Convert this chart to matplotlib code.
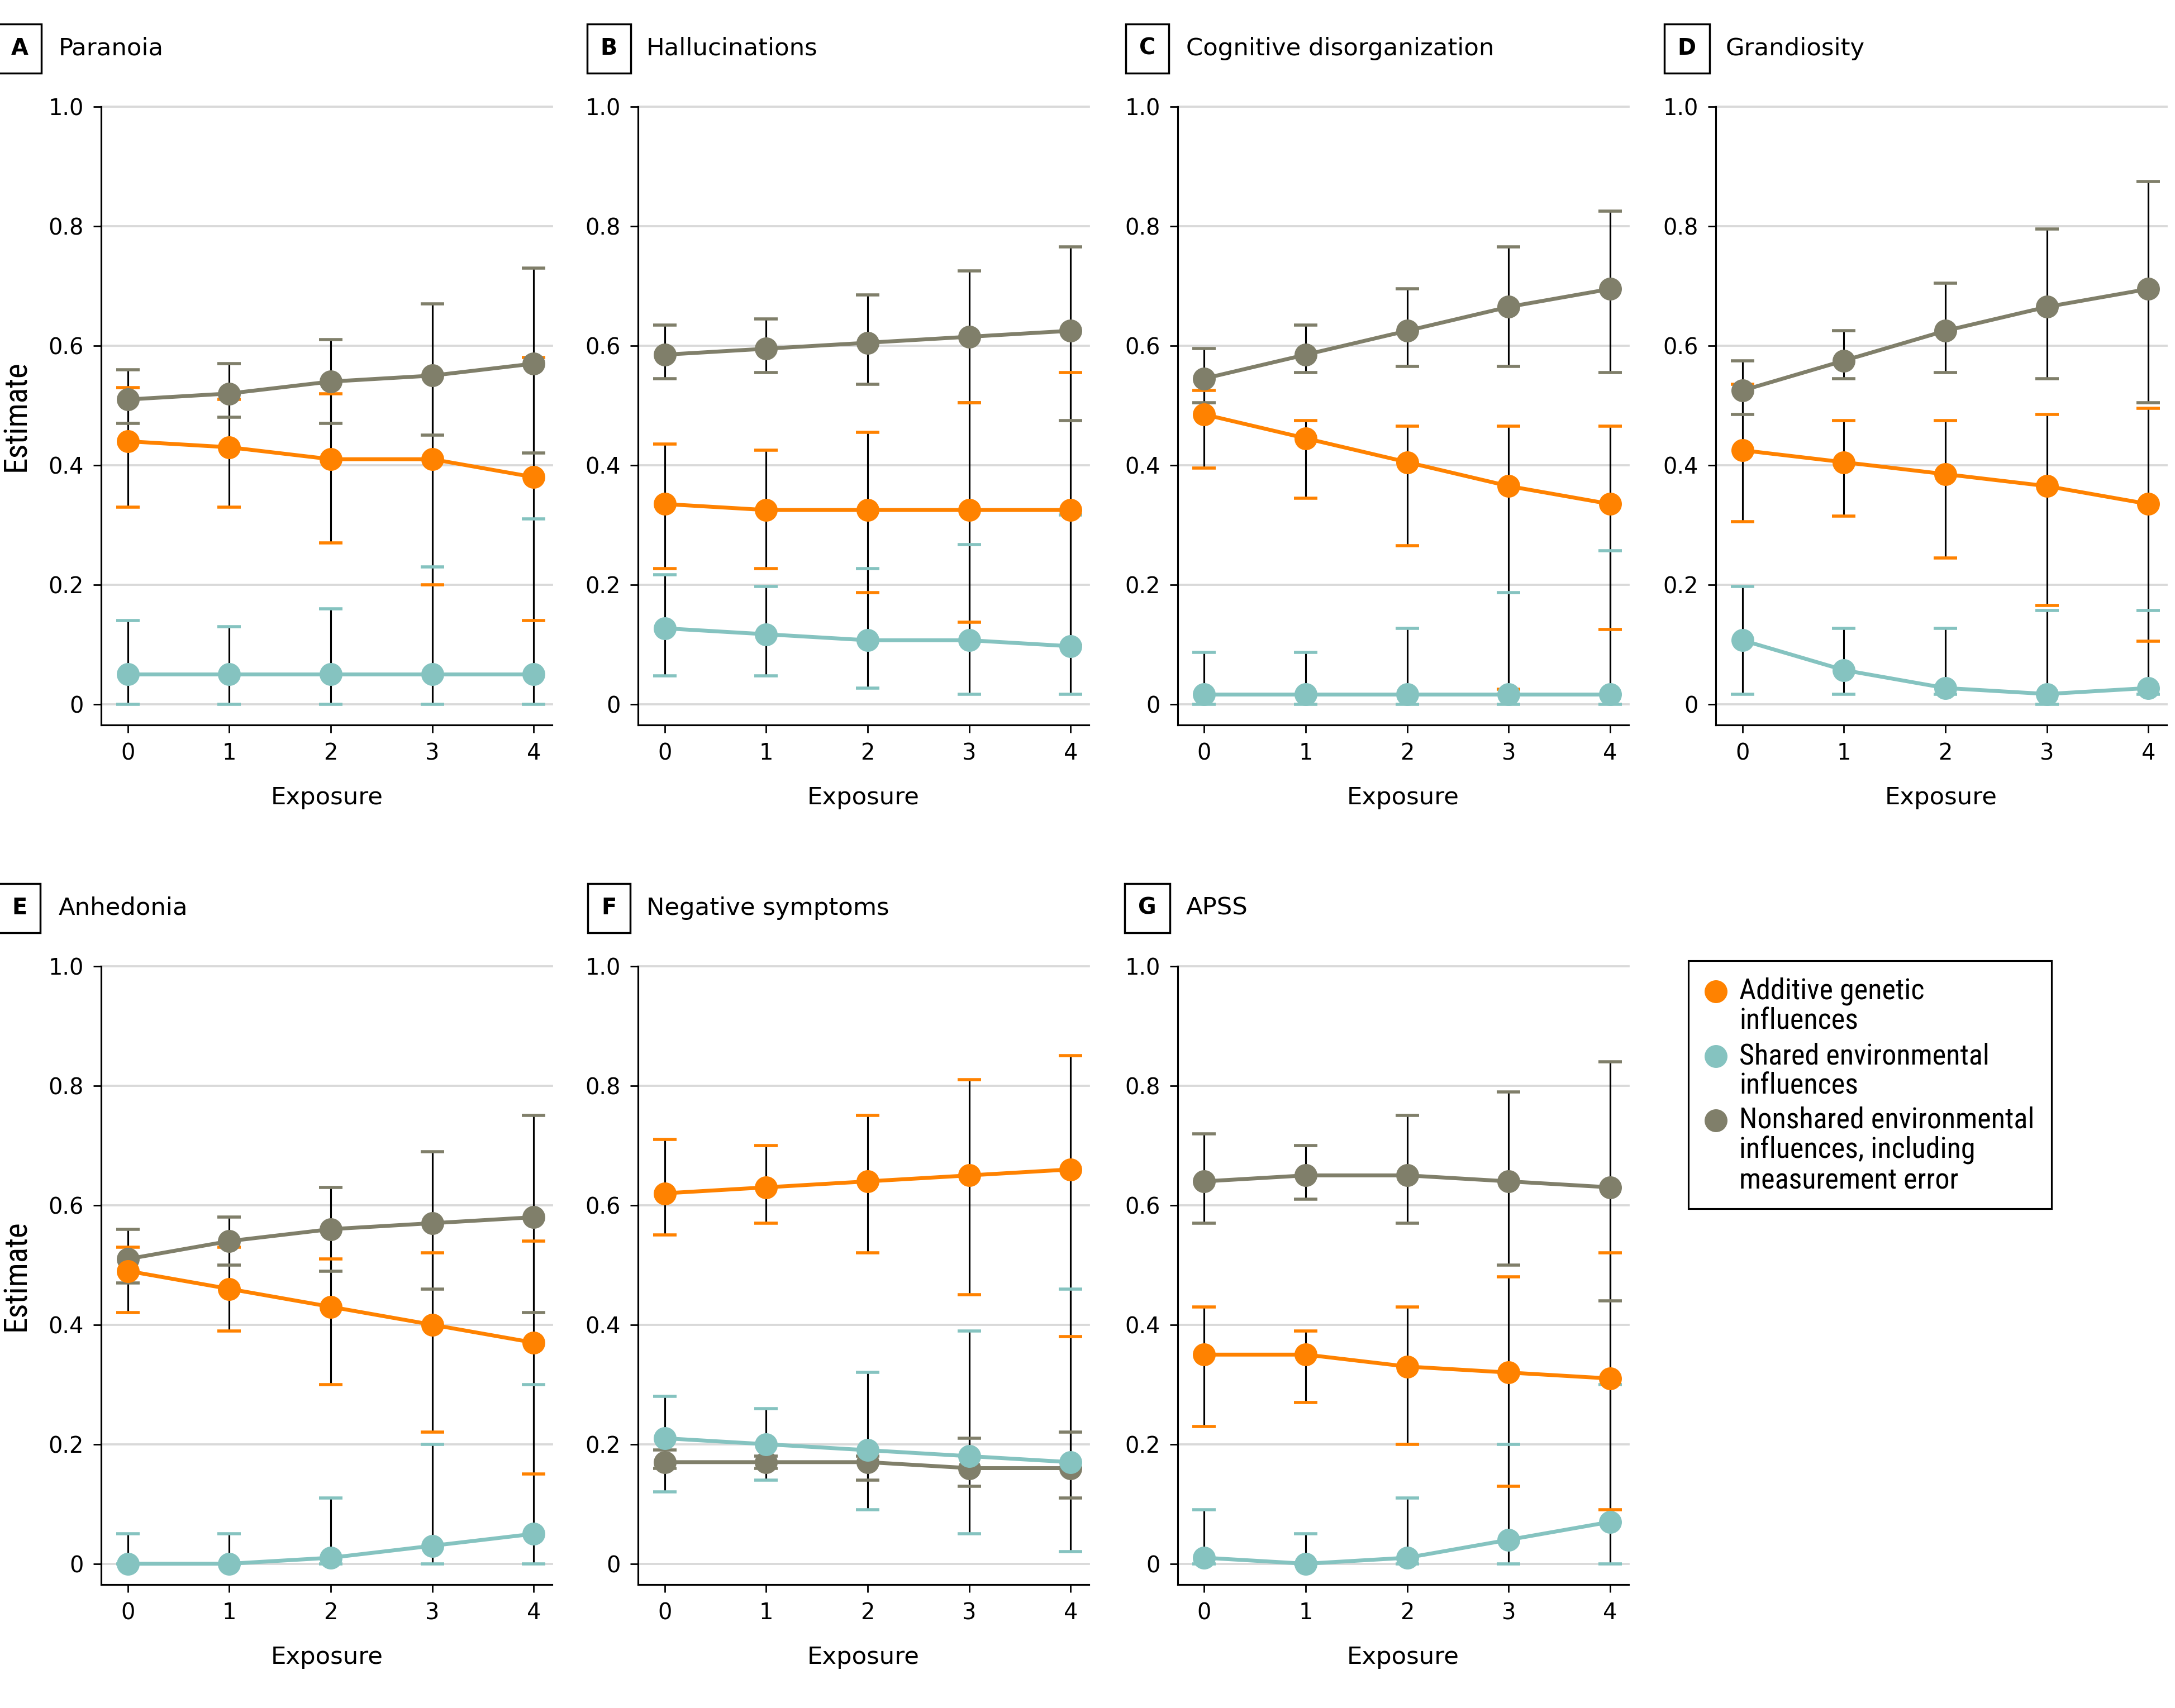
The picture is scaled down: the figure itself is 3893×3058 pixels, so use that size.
import matplotlib.pyplot as plt
from matplotlib.lines import Line2D
from matplotlib.patches import Rectangle
from matplotlib import font_manager

plt.rcParams["font.family"] = ["DejaVu Sans"]

# condensed face for legend and y label, if one is installed
narrow_family = "DejaVu Sans"
for name in ["Liberation Sans Narrow", "Roboto Condensed", "Open Sans Condensed", "DejaVu Sans"]:
    if any(f.name == name for f in font_manager.fontManager.ttflist):
        narrow_family = name
        break
has_condensed = any(f.name == "DejaVu Sans" and f.stretch in ("condensed", "semi-condensed")
                    for f in font_manager.fontManager.ttflist)

exposure = [0, 1, 2, 3, 4]
panel_letters = ["A", "B", "C", "D", "E", "F", "G"]
panel_titles = ["Paranoia", "Hallucinations", "Cognitive disorganization", "Grandiosity",
                "Anhedonia", "Negative symptoms", "APSS"]

# additive genetic influences (estimate, lower, upper) per panel
additive_est = [[0.44, 0.43, 0.41, 0.41, 0.38],
                [0.335, 0.325, 0.325, 0.325, 0.325],
                [0.485, 0.445, 0.405, 0.365, 0.335],
                [0.425, 0.405, 0.385, 0.365, 0.335],
                [0.49, 0.46, 0.43, 0.40, 0.37],
                [0.62, 0.63, 0.64, 0.65, 0.66],
                [0.35, 0.35, 0.33, 0.32, 0.31]]
additive_lo = [[0.33, 0.33, 0.27, 0.20, 0.14],
               [0.227, 0.227, 0.187, 0.137, 0.098],
               [0.395, 0.345, 0.265, 0.025, 0.125],
               [0.305, 0.315, 0.245, 0.165, 0.105],
               [0.42, 0.39, 0.30, 0.22, 0.15],
               [0.55, 0.57, 0.52, 0.45, 0.38],
               [0.23, 0.27, 0.20, 0.13, 0.09]]
additive_hi = [[0.53, 0.51, 0.52, 0.55, 0.58],
               [0.435, 0.425, 0.455, 0.505, 0.555],
               [0.525, 0.475, 0.465, 0.465, 0.465],
               [0.535, 0.475, 0.475, 0.485, 0.495],
               [0.53, 0.53, 0.51, 0.52, 0.54],
               [0.71, 0.70, 0.75, 0.81, 0.85],
               [0.43, 0.39, 0.43, 0.48, 0.52]]

# shared environmental influences
shared_est = [[0.05, 0.05, 0.05, 0.05, 0.05],
              [0.127, 0.117, 0.107, 0.107, 0.097],
              [0.017, 0.017, 0.017, 0.017, 0.017],
              [0.107, 0.057, 0.027, 0.017, 0.027],
              [0.0, 0.0, 0.01, 0.03, 0.05],
              [0.21, 0.20, 0.19, 0.18, 0.17],
              [0.01, 0.0, 0.01, 0.04, 0.07]]
shared_lo = [[0.0, 0.0, 0.0, 0.0, 0.0],
             [0.047, 0.047, 0.027, 0.017, 0.017],
             [0.0, 0.0, 0.0, 0.0, 0.0],
             [0.017, 0.017, 0.017, 0.0, 0.017],
             [0.0, 0.0, 0.0, 0.0, 0.0],
             [0.12, 0.14, 0.09, 0.05, 0.02],
             [0.0, 0.0, 0.0, 0.0, 0.0]]
shared_hi = [[0.14, 0.13, 0.16, 0.23, 0.31],
             [0.217, 0.197, 0.227, 0.267, 0.317],
             [0.087, 0.087, 0.127, 0.187, 0.257],
             [0.197, 0.127, 0.127, 0.157, 0.157],
             [0.05, 0.05, 0.11, 0.20, 0.30],
             [0.28, 0.26, 0.32, 0.39, 0.46],
             [0.09, 0.05, 0.11, 0.20, 0.30]]

# nonshared environmental influences
nonshared_est = [[0.51, 0.52, 0.54, 0.55, 0.57],
                 [0.585, 0.595, 0.605, 0.615, 0.625],
                 [0.545, 0.585, 0.625, 0.665, 0.695],
                 [0.525, 0.575, 0.625, 0.665, 0.695],
                 [0.51, 0.54, 0.56, 0.57, 0.58],
                 [0.17, 0.17, 0.17, 0.16, 0.16],
                 [0.64, 0.65, 0.65, 0.64, 0.63]]
nonshared_lo = [[0.47, 0.48, 0.47, 0.45, 0.42],
                [0.545, 0.555, 0.535, 0.505, 0.475],
                [0.505, 0.555, 0.565, 0.565, 0.555],
                [0.485, 0.545, 0.555, 0.545, 0.505],
                [0.47, 0.50, 0.49, 0.46, 0.42],
                [0.16, 0.16, 0.14, 0.13, 0.11],
                [0.57, 0.61, 0.57, 0.50, 0.44]]
nonshared_hi = [[0.56, 0.57, 0.61, 0.67, 0.73],
                [0.635, 0.645, 0.685, 0.725, 0.765],
                [0.595, 0.635, 0.695, 0.765, 0.825],
                [0.575, 0.625, 0.705, 0.795, 0.875],
                [0.56, 0.58, 0.63, 0.69, 0.75],
                [0.19, 0.18, 0.18, 0.21, 0.22],
                [0.72, 0.70, 0.75, 0.79, 0.84]]

orange = "#FF8200"
teal = "#85C3C0"
gray = "#807F6A"

legend_labels = ["Additive genetic\ninfluences",
                 "Shared environmental\ninfluences",
                 "Nonshared environmental\ninfluences, including\nmeasurement error"]

# legend/ylabel text size depends on whether a narrow face was found
if narrow_family != "DejaVu Sans" or has_condensed:
    narrow_kw = dict(family=narrow_family, stretch="condensed")
    legend_size, ylabel_size = 15, 16.5
else:
    narrow_kw = dict(family="DejaVu Sans")
    legend_size, ylabel_size = 11.5, 13

# layout grid (pixels of a 1568 x 1232 canvas)
W, H = 1568, 1232
col_left = [73, 460, 849, 1237]
row_top = [77, 697]
ax_w, ax_h = 325, 446

fig = plt.figure(figsize=(15.572, 12.232), dpi=250)

series = [
    (nonshared_est, nonshared_lo, nonshared_hi, gray, 3.0),
    (shared_est, shared_lo, shared_hi, teal, 3.1),
    (additive_est, additive_lo, additive_hi, orange, 3.2),
]

for i in range(7):
    r, c = divmod(i, 4)
    left = col_left[c] / W
    bottom = 1 - (row_top[r] + ax_h) / H
    ax = fig.add_axes([left, bottom, ax_w / W, ax_h / H])

    for est, lo, hi, color, z in series:
        ax.vlines(exposure, lo[i], hi[i], color="black", lw=0.9, zorder=2)
        ax.plot(exposure, lo[i], ls="none", marker="_", ms=12, mew=1.6, color=color, zorder=2.5)
        ax.plot(exposure, hi[i], ls="none", marker="_", ms=12, mew=1.6, color=color, zorder=2.5)
    for est, lo, hi, color, z in series:
        ax.plot(exposure, est[i], color=color, lw=2.0, marker="o", ms=10.8, zorder=z)

    ax.set_xlim(-0.262, 4.18)
    ax.set_ylim(-0.035, 1.0)
    ax.set_xticks(exposure)
    ax.set_yticks([0, 0.2, 0.4, 0.6, 0.8, 1.0])
    ax.set_yticklabels(["0", "0.2", "0.4", "0.6", "0.8", "1.0"])
    ax.tick_params(labelsize=11.5, length=4, width=0.8, pad=5, colors="black")
    ax.grid(axis="y", color="#d9d9d9", lw=1.1, zorder=0, clip_on=False)
    ax.set_axisbelow(True)
    for s in ["top", "right"]:
        ax.spines[s].set_visible(False)
    for s in ["left", "bottom"]:
        ax.spines[s].set_linewidth(0.9)
    ax.set_xlabel("Exposure", fontsize=12.5)
    ax.xaxis.set_label_coords(0.5, -0.098)

    # panel heading: boxed letter + title
    ty = 1 - (35 if r == 0 else 655) / H
    box_x = [14, 439, 827, 1216][c]
    txt_x = [42, 466, 855, 1244][c]
    fig.text(box_x / W, ty, panel_letters[i], fontsize=11.5, fontweight="bold",
             ha="center", va="center",
             bbox=dict(boxstyle="square,pad=0.6", fc="white", ec="black", lw=1.0))
    fig.text(txt_x / W, ty, panel_titles[i], fontsize=12.5, ha="left", va="center")

    if c == 0:
        fig.text(12 / W, 1 - (row_top[r] + ax_h / 2) / H, "Estimate", rotation=90,
                 ha="center", va="center", fontsize=ylabel_size, **narrow_kw)

# legend box
lx0, ly0, lx1, ly1 = 1217, 693, 1479, 872
fig.add_artist(Rectangle((lx0 / W, 1 - ly1 / H), (lx1 - lx0) / W, (ly1 - ly0) / H,
                         transform=fig.transFigure, fc="white", ec="black", lw=0.9))
for color, label, y in zip([orange, teal, gray], legend_labels, [715, 762, 808]):
    fig.add_artist(Line2D([1237 / W], [1 - y / H], transform=fig.transFigure,
                          marker="o", ms=10.8, color=color, ls="none"))
    fig.text(1254 / W, 1 - (y - 10) / H, label, ha="left", va="top",
             linespacing=1.08, fontsize=legend_size, **narrow_kw)

fig.savefig("out.png", dpi=250)
